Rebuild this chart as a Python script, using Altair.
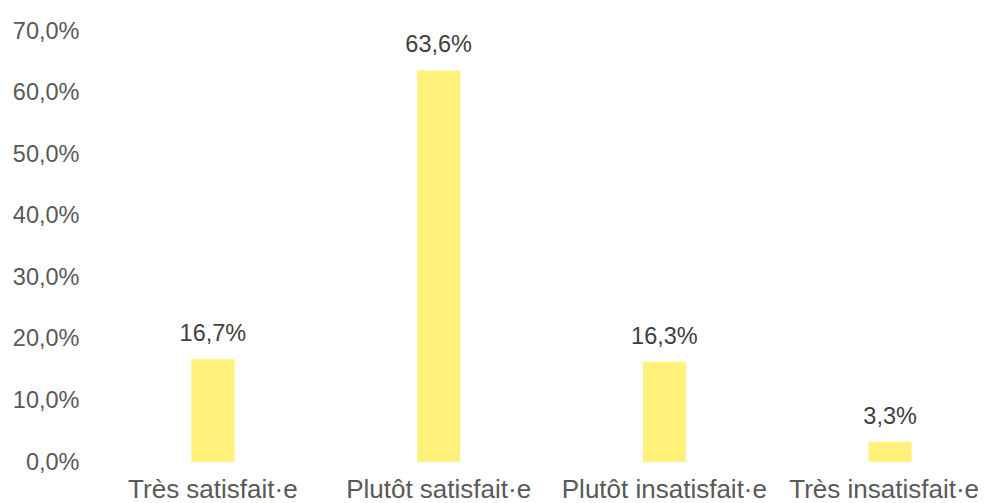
import altair as alt
import pandas as pd

categories = ["Très satisfait·e", "Plutôt satisfait·e", "Plutôt insatisfait·e", "Très insatisfait·e"]
values = [16.7, 63.6, 16.3, 3.3]
labels = ["16,7%", "63,6%", "16,3%", "3,3%"]

df = pd.DataFrame({"cat": categories, "val": values, "lab": labels})

FONT = "Liberation Sans"

x = alt.X("cat:N", sort=categories, title=None,
          scale=alt.Scale(paddingInner=0.81, paddingOuter=0.405, range=[0, 903]),
          axis=alt.Axis(labelAngle=0, labelFontSize=26, labelColor="#595959",
                        labelFont=FONT, domain=False, ticks=False, labelPadding=14,
                        labelLimit=400,
                        labelOffset={"condition": {"test": "datum.index === 1", "value": -6},
                                     "value": 0}))
y = alt.Y("val:Q", title=None,
          scale=alt.Scale(domain=[0, 70], nice=False),
          axis=alt.Axis(values=[0, 10, 20, 30, 40, 50, 60, 70], grid=False, domain=False,
                        ticks=False, labelFontSize=23.5, labelColor="#595959", labelFont=FONT,
                        labelPadding=21,
                        labelExpr="replace(format(datum.value, '.1f'), '.', ',') + '%'"))

bars = alt.Chart(df).mark_bar(color="#FFF17A", size=43).encode(x=x, y=y)
text = alt.Chart(df).mark_text(font=FONT, fontSize=23.5, color="#404040",
                               baseline="alphabetic", dy=-18).encode(
    x=alt.X("cat:N", sort=categories), y="val:Q", text="lab:N")

chart = (bars + text).properties(
    width=881, height=431,
    autosize=alt.AutoSizeParams(type="none"),
    padding={"left": 92, "top": 23, "right": 0, "bottom": 41},
).configure_view(stroke=None)

chart.save("out.html", embed_options={"renderer": "svg", "actions": False})
